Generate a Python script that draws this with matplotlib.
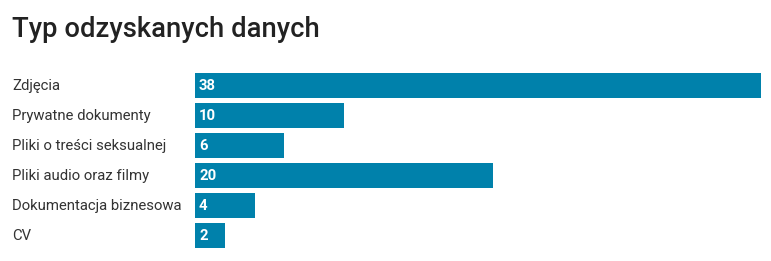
import matplotlib.pyplot as plt
import matplotlib.transforms as mtransforms

# data
categories = ['Zdjęcia', 'Prywatne dokumenty', 'Pliki o treści seksualnej',
              'Pliki audio oraz filmy', 'Dokumentacja biznesowa', 'CV']
values = [38, 10, 6, 20, 4, 2]

W, H = 771, 261
plt.rcParams['font.family'] = ['Roboto', 'DejaVu Sans']

fig = plt.figure(figsize=(W / 100, H / 100), dpi=100)
# axes area in pixels: x 195..761, rows from y=70.5 to 250.5
ax = fig.add_axes([195 / W, 1 - 250.5 / H, (761 - 195) / W, 180 / H])

ypos = list(range(len(categories)))
ax.barh(ypos, values, height=25 / 30, color='#0081ab')
ax.set_xlim(0, max(values))
ax.set_ylim(len(categories) - 0.5, -0.5)
ax.axis('off')

trans = mtransforms.blended_transform_factory(fig.transFigure, ax.transData)
offset = ax.transData + mtransforms.ScaledTranslation(4 / 100, 0, fig.dpi_scale_trans)
for y, cat, v in zip(ypos, categories, values):
    ax.text(12 / W, y + 0.03, cat, transform=trans, ha='left', va='center',
            fontsize=10.7, color='#333333')
    ax.text(0, y + 0.03, str(v), ha='left', va='center', transform=offset,
            fontsize=10.7, fontweight='bold', color='white')

fig.text(12 / W, 1 - 37 / H, 'Typ odzyskanych danych', ha='left', va='baseline',
         fontsize=19.7, fontweight='medium', color='#222222')

fig.savefig('out.png', dpi=100)
